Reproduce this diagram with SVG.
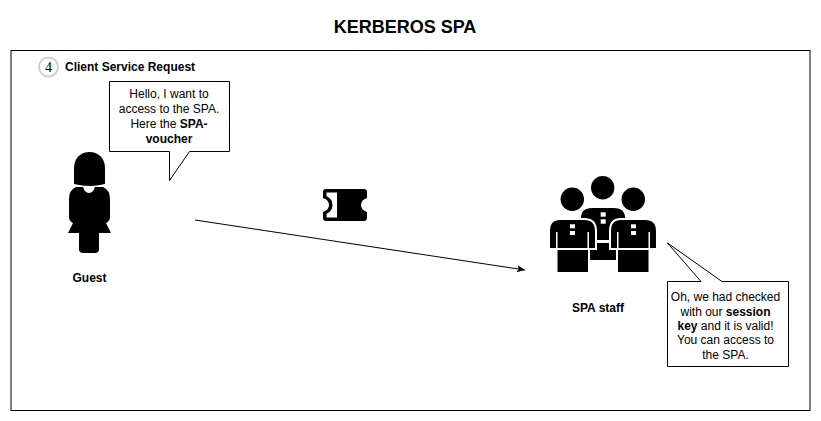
<svg xmlns="http://www.w3.org/2000/svg" width="821" height="421" viewBox="0 0 821 421">
<style>
text{font-family:"Liberation Sans",Arial,sans-serif;font-size:12px;fill:#000;text-anchor:middle}
.b{font-weight:bold}
.box{fill:#fff;stroke:#000;stroke-width:1}
.ink{fill:#000}
.cut{fill:#fff}
.gap{fill:#000;stroke:#fff;stroke-width:2}
.line{fill:none;stroke:#000;stroke-width:1}
</style>
<defs>
<marker id="arrow" markerUnits="userSpaceOnUse" markerWidth="10" markerHeight="10" refX="8" refY="4" orient="auto">
<path d="M0 0.5L8 4L0 7.5L1.6 4Z" fill="#000"/>
</marker>
</defs>
<rect width="821" height="421" fill="#fff"/>
<text class="b" x="405" y="33" style="font-size:18px">KERBEROS SPA</text>
<rect id="frame" x="11" y="50.500" width="799" height="360" fill="#fff" stroke="#000"/>
<g id="step">
<circle cx="48.500" cy="67" r="9.500" fill="#fff" stroke="#d0d0d0" stroke-width="2"/>
<text x="48.500" y="71.500" style="font-family:'Liberation Serif',serif;font-size:14px">4</text>
<text class="b" x="65" y="71" style="text-anchor:start">Client Service Request</text>
</g>
<g id="connectors">
<path class="line" d="M195 220L525 270" marker-end="url(#arrow)"/>
</g>
<g id="guest">
<path class="ink" d="M74 184Q74 176 74 168C74 158 81 152 89.500 152C98 152 105 158 105 168Q105 176 105 184Q97 186 89.500 186Q82 186 74 184Z"/>
<path class="ink" d="M76 187H103Q110 190 110 199V217Q110 221 106 223L111 233H99V249Q99 253 95 253H83Q79 253 79 249V233H68L73 223Q69 221 69 217V199Q69 190 76 187Z"/>
<path class="cut" d="M83 186H95Q94 193 89 193Q84 193 83 186Z"/>
<text class="b" x="89.500" y="282">Guest</text>
</g>
<g id="guest-callout">
<path class="box" d="M109.500 81.500H229.500V151.500H189.500L169.500 180.500V151.500H109.500Z"/>
<text x="169" y="98">Hello, I want to</text>
<text x="169" y="113">access to the SPA.</text>
<text x="169" y="128">Here the <tspan class="b">SPA-</tspan></text>
<text x="169" y="143" class="b">voucher</text>
</g>
<g id="voucher">
<path class="ink" d="M326 189H364Q367 189 367 192V198Q361 200 361 205Q361 210 367 212V218Q367 221 364 221H326Q323 221 323 218V212Q329 210 329 205Q329 200 323 198V192Q323 189 326 189Z"/>
<path class="cut" d="M326.500 192.500H337V217.500H326.500V214Q332.500 211 332.500 205Q332.500 199 326.500 196Z"/>
</g>
<g id="spa-staff">
<circle class="ink" cx="602.700" cy="187.700" r="11.700"/>
<circle class="ink" cx="572.300" cy="199.300" r="11.700"/>
<circle class="ink" cx="633.300" cy="199.300" r="11.700"/>
<path class="ink" d="M590 260H616V243H590ZM590 240H616V226H625V218Q625 208 614 208H592Q581 208 581 218V226H590Z"/>
<rect class="cut" x="600.700" y="212.300" width="5" height="4.400"/>
<rect class="cut" x="600.700" y="219.300" width="5" height="4.400"/>
<path class="gap" d="M549 249V231Q549 219 560 219H584Q596 219 596 231V249Z"/>
<path class="gap" d="M610 249V231Q610 219 621 219H645Q657 219 657 231V249Z"/>
<rect class="ink" x="557.500" y="250" width="30.500" height="22"/>
<rect class="ink" x="618" y="250" width="30.500" height="22"/>
<rect class="cut" x="556" y="232" width="1.500" height="17"/>
<rect class="cut" x="587.500" y="232" width="1.500" height="17"/>
<rect class="cut" x="617" y="232" width="1.500" height="17"/>
<rect class="cut" x="648.500" y="232" width="1.500" height="17"/>
<rect class="cut" x="570" y="224.300" width="5" height="4"/>
<rect class="cut" x="570" y="231" width="5" height="4"/>
<rect class="cut" x="631" y="224.300" width="5" height="4"/>
<rect class="cut" x="631" y="231" width="5" height="4"/>
<text class="b" x="598" y="312">SPA staff</text>
</g>
<g id="staff-callout">
<path class="box" d="M667.500 281.500H701L667.500 243L722 281.500H788.500V366.500H667.500Z"/>
<text x="725.500" y="301">Oh, we had checked</text>
<text x="725.500" y="316">with our <tspan class="b">session</tspan></text>
<text x="725.500" y="330"><tspan class="b">key</tspan> and it is valid!</text>
<text x="725.500" y="344">You can access to</text>
<text x="725.500" y="359">the SPA.</text>
</g>
</svg>
